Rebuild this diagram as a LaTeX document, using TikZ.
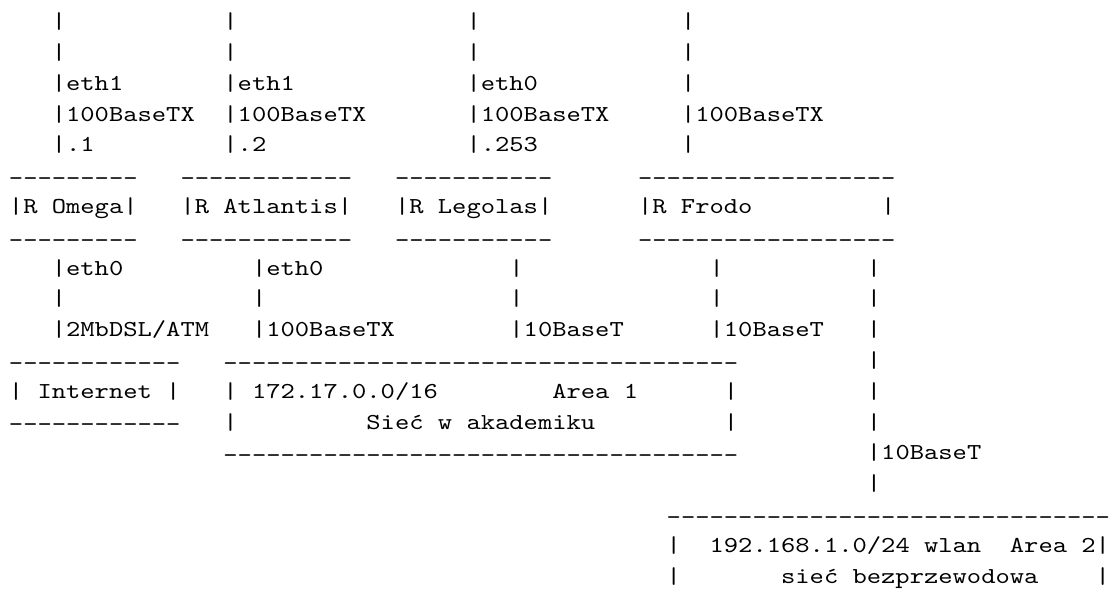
\documentclass[tikz,border=0pt]{standalone}
\usepackage{fontspec}
\usepackage{tikz}
\setmonofont{lmmono10-regular.otf}[FakeStretch=1.1947]

\newcommand{\asciifont}{\ttfamily\fontsize{11.4pt}{13pt}\selectfont}
\tikzset{
  txt/.style={anchor=base west, inner sep=0pt, outer sep=0pt, font=\asciifont},
  hline/.style={txt, yshift=-1.35pt},
}

\begin{document}
\begin{tikzpicture}[x=7.15pt, y=-15.4pt]
  \useasboundingbox (-0.626,0.065) rectangle (77.28,19.773);

  % lines going up from the routers
  \foreach \c in {3,15,32,47} {
    \node[txt] (upa-\c) at (\c,1) {|};
    \node[txt] (upb-\c) at (\c,2) {|};
  }
  \node[txt] (omega-if) at (3,3) {|eth1};
  \node[txt] (atlantis-if) at (15,3) {|eth1};
  \node[txt] (legolas-if) at (32,3) {|eth0};
  \node[txt] (frodo-if) at (47,3) {|};
  \foreach \c in {3,15,32,47}
    \node[txt] (speed-\c) at (\c,4) {|100BaseTX};
  \node[txt] (omega-ip) at (3,5) {|.1};
  \node[txt] (atlantis-ip) at (15,5) {|.2};
  \node[txt] (legolas-ip) at (32,5) {|.253};
  \node[txt] (frodo-ip) at (47,5) {|};

  % routers
  \foreach \r in {6,8} {
    \node[hline] (omega-\r) at (0,\r) {---------};
    \node[hline] (atlantis-\r) at (12,\r) {------------};
    \node[hline] (legolas-\r) at (27,\r) {-----------};
    \node[hline] (frodo-\r) at (44,\r) {------------------};
  }
  \node[txt] (omega) at (0,7) {|R Omega|};
  \node[txt] (atlantis) at (12,7) {|R Atlantis|};
  \node[txt] (legolas) at (27,7) {|R Legolas|};
  \node[txt] (frodo) at (44,7) {|R Frodo};
  \node[txt] (frodo-end) at (61,7) {|};

  % lines going down from the routers
  \node[txt] (omega-down) at (3,9) {|eth0};
  \node[txt] (atlantis-down) at (17,9) {|eth0};
  \foreach \c in {35,49,60}
    \node[txt] (downa-\c) at (\c,9) {|};
  \foreach \c in {3,17,35,49,60}
    \node[txt] (downb-\c) at (\c,10) {|};
  \node[txt] (omega-link) at (3,11) {|2MbDSL/ATM};
  \node[txt] (atlantis-link) at (17,11) {|100BaseTX};
  \node[txt] (legolas-link) at (35,11) {|10BaseT};
  \node[txt] (frodo-link) at (49,11) {|10BaseT};
  \node[txt] (wlan-a) at (60,11) {|};

  % Internet and the dorm network
  \node[hline] (inet-top) at (0,12) {------------};
  \node[txt] (inet) at (0,13) {| Internet |};
  \node[hline] (inet-bot) at (0,14) {------------};
  \node[hline] (dorm-top) at (15,12) {------------------------------------};
  \node[txt] (dorm-ip) at (15,13) {| 172.17.0.0/16};
  \node[txt] (dorm-area) at (38,13) {Area 1};
  \node[txt] (dorm-r1) at (50,13) {|};
  \node[txt] (dorm-l2) at (15,14) {|};
  \node[txt] (dorm) at (25,14) {Sieć w akademiku};
  \node[txt] (dorm-r2) at (50,14) {|};
  \node[hline] (dorm-bot) at (15,15) {------------------------------------};
  \foreach \r in {12,13,14}
    \node[txt] (wlan-\r) at (60,\r) {|};
  \node[txt] (wlan-link) at (60,15) {|10BaseT};
  \node[txt] (wlan-b) at (60,16) {|};

  % wireless network
  \node[hline] (wifi-top) at (46,17) {-------------------------------};
  \node[txt] (wifi-l1) at (46,18) {|};
  \node[txt] (wifi-ip) at (49,18) {192.168.1.0/24 wlan};
  \node[txt] (wifi-area) at (70,18) {Area 2|};
  \node[txt] (wifi-l2) at (46,19) {|};
  \node[txt] (wifi) at (54,19) {sieć bezprzewodowa};
  \node[txt] (wifi-r2) at (76,19) {|};
\end{tikzpicture}
\end{document}
